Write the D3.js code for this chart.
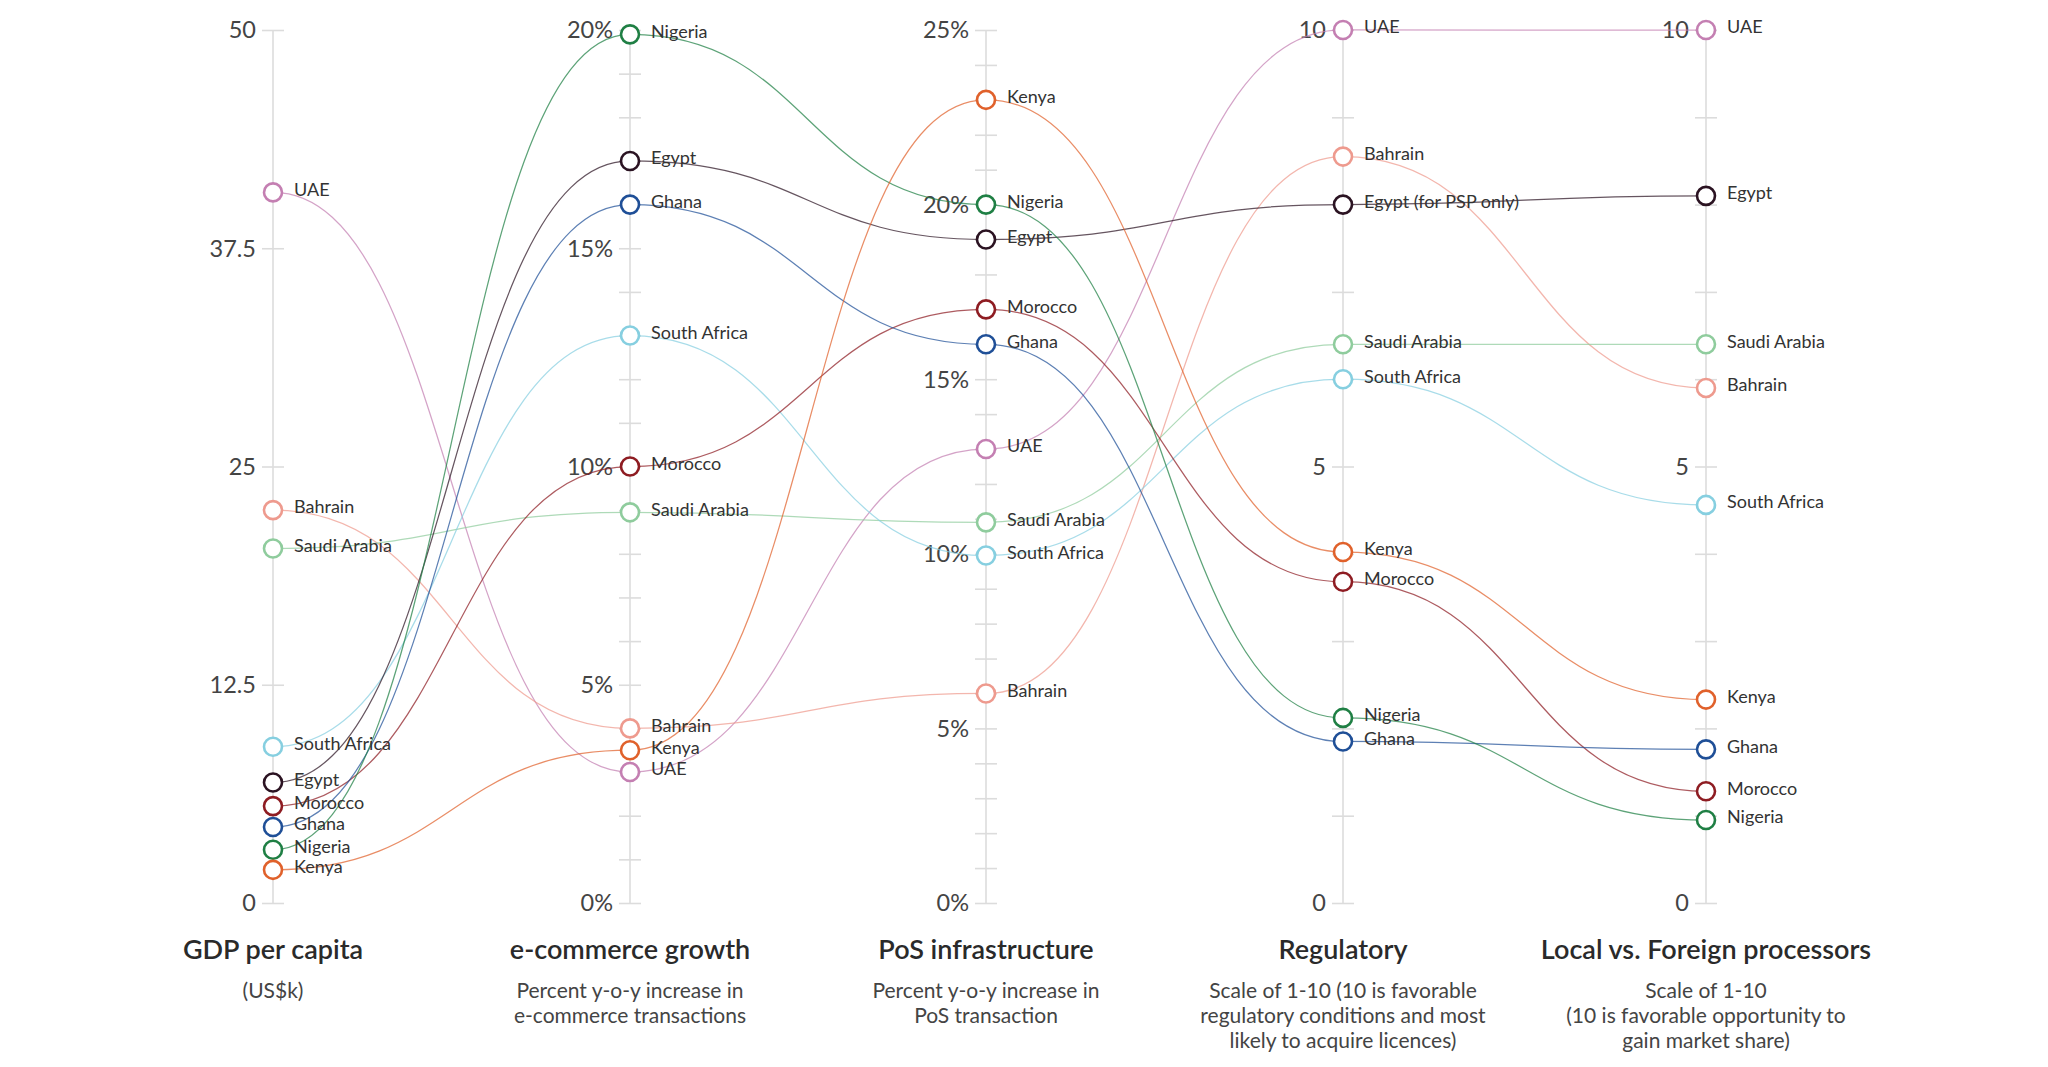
<!DOCTYPE html>
<html>
<head>
<meta charset="utf-8">
<script src="https://cdn.jsdelivr.net/npm/d3@7"></script>
<style>
  html, body { margin: 0; padding: 0; background: #ffffff; }
  svg { display: block; font-family: Lato, "Noto Sans", sans-serif; }
</style>
</head>
<body>
<svg id="chart" width="2048" height="1067"></svg>
<script>
// ---------- data ----------
const countries = ["UAE", "Bahrain", "Saudi Arabia", "South Africa", "Egypt", "Morocco", "Ghana", "Nigeria", "Kenya"];
const countryColors = ["#c47fb2", "#ee9a8e", "#8fcc9d", "#86cfe0", "#2b1322", "#8e1c22", "#1f4f97", "#1f7f44", "#e0612b"];

const gdpPerCapita      = [40.7, 22.5, 20.3, 8.95, 6.9, 5.55, 4.35, 3.05, 1.9];
const ecommerceGrowth   = [3.0, 4.0, 8.95, 13.0, 17.0, 10.0, 16.0, 19.9, 3.5];
const posInfrastructure = [13.0, 6.0, 10.9, 9.95, 19.0, 17.0, 16.0, 20.0, 23.0];
const regulatory        = [10, 8.55, 6.4, 6.0, 8.0, 3.68, 1.85, 2.12, 4.02];
const localVsForeign    = [10, 5.9, 6.4, 4.56, 8.1, 1.28, 1.76, 0.95, 2.33];

const axisTitles = ["GDP per capita", "e-commerce growth", "PoS infrastructure", "Regulatory", "Local vs. Foreign processors"];
const axisSubtitles = [
  ["(US$k)"],
  ["Percent y-o-y increase in", "e-commerce transactions"],
  ["Percent y-o-y increase in", "PoS transaction"],
  ["Scale of 1-10 (10 is favorable", "regulatory conditions and most", "likely to acquire licences)"],
  ["Scale of 1-10", "(10 is favorable opportunity to", "gain market share)"]
];
const axisMax = [50, 20, 25, 10, 10];
const labeledTicks = [[0, 12.5, 25, 37.5, 50], [0, 5, 10, 15, 20], [0, 5, 10, 15, 20, 25], [0, 5, 10], [0, 5, 10]];
const minorTickStep = [0, 1, 1, 1, 1];
const tickSuffix = ["", "%", "%", "", ""];
const regulatoryLabelNotes = { "Egypt": "Egypt (for PSP only)" };

const seriesByAxis = [gdpPerCapita, ecommerceGrowth, posInfrastructure, regulatory, localVsForeign];

// ---------- layout ----------
const svg = d3.select("#chart");
const yTop = 30, yBottom = 903;
const axisXs = [273, 630, 986, 1343, 1706];
const xPos = i => axisXs[i];

const yScales = axisMax.map(m => d3.scaleLinear().domain([0, m]).range([yBottom, yTop]));

// ---------- axes ----------
const axesG = svg.append("g");
axisTitles.forEach((title, i) => {
  const g = axesG.append("g").attr("transform", `translate(${xPos(i)},0)`);
  const y = yScales[i];
  g.append("line")
    .attr("x1", 0).attr("x2", 0)
    .attr("y1", y(axisMax[i])).attr("y2", y(0))
    .attr("stroke", "#dcdcdc").attr("stroke-width", 1.6);

  let allTicks = labeledTicks[i].slice();
  if (minorTickStep[i] > 0) {
    allTicks = d3.range(0, axisMax[i] + 1e-9, minorTickStep[i]);
  }
  const axis = d3.axisLeft(y)
    .tickValues(allTicks)
    .tickSize(0)
    .tickFormat(() => "");
  const ag = g.append("g").call(axis);
  ag.select(".domain").remove();
  ag.selectAll(".tick").append("line")
    .attr("x1", -11).attr("x2", 11)
    .attr("stroke", "#dcdcdc").attr("stroke-width", 1.6);

  g.selectAll("text.ticklabel")
    .data(labeledTicks[i])
    .enter().append("text")
    .attr("class", "ticklabel")
    .attr("x", -17)
    .attr("y", d => y(d))
    .attr("dy", "0.36em")
    .attr("text-anchor", "end")
    .attr("font-size", 23.5)
    .attr("fill", "#444")
    .text(d => d + tickSuffix[i]);

  g.append("text")
    .attr("x", 0).attr("y", 959)
    .attr("text-anchor", "middle")
    .attr("font-size", 27)
    .attr("font-weight", 600)
    .attr("fill", "#2a2a2a")
    .text(title);

  axisSubtitles[i].forEach((line, k) => {
    g.append("text")
      .attr("x", 0).attr("y", 998 + k * 25)
      .attr("text-anchor", "middle")
      .attr("font-size", 21)
      .attr("fill", "#444")
      .text(line);
  });
});

// ---------- lines ----------
const line = d3.line()
  .x(d => xPos(d.axis))
  .y(d => yScales[d.axis](d.value))
  .curve(d3.curveBumpX);

const rows = countries.map((c, ci) => ({
  name: c,
  color: countryColors[ci],
  points: seriesByAxis.map((s, ai) => ({ axis: ai, value: s[ci] }))
}));

svg.append("g").selectAll("path")
  .data(rows)
  .enter().append("path")
  .attr("d", d => line(d.points))
  .attr("fill", "none")
  .attr("stroke", d => d.color)
  .attr("stroke-opacity", 0.72)
  .attr("stroke-width", 1.25);

// ---------- circles & labels ----------
const nodeG = svg.append("g");
rows.forEach(r => {
  r.points.forEach(p => {
    const cx = xPos(p.axis), cy = yScales[p.axis](p.value);
    nodeG.append("circle")
      .attr("cx", cx).attr("cy", cy).attr("r", 9)
      .attr("fill", "#ffffff")
      .attr("stroke", r.color)
      .attr("stroke-width", 2.6);
  });
});
const labelG = svg.append("g");
rows.forEach(r => {
  r.points.forEach(p => {
    const cx = xPos(p.axis), cy = yScales[p.axis](p.value);
    const txt = (p.axis === 3 && regulatoryLabelNotes[r.name]) ? regulatoryLabelNotes[r.name] : r.name;
    labelG.append("text")
      .attr("x", cx + 21).attr("y", cy - 3)
      .attr("dy", "0.35em")
      .attr("font-size", 18)
      .attr("fill", "#333")
      .text(txt);
  });
});
</script>
</body>
</html>
